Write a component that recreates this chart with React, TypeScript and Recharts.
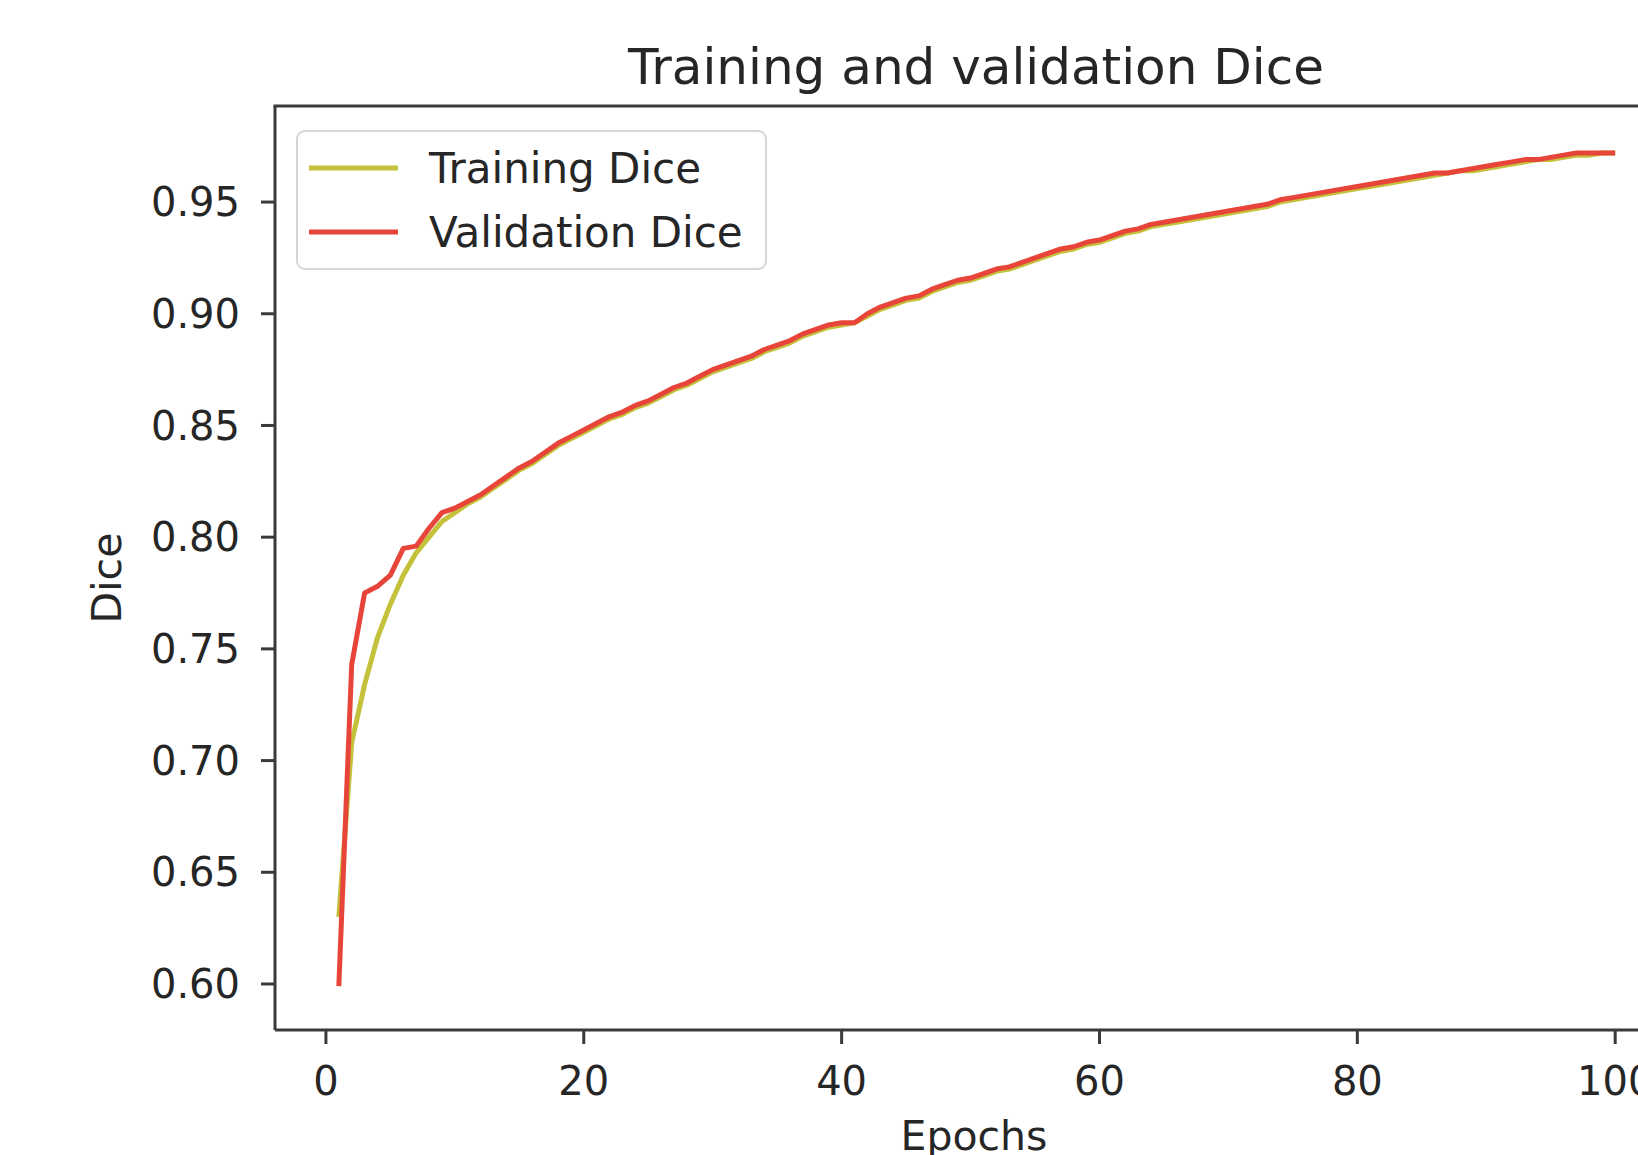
import { Legend, Line, LineChart, XAxis, YAxis } from "recharts";

const epochTicks = [0, 20, 40, 60, 80, 100];
const diceTicks = [0.6, 0.65, 0.7, 0.75, 0.8, 0.85, 0.9, 0.95];

// epochs 1..100
const trainingDice = [
  0.63, 0.708, 0.734, 0.755, 0.77, 0.783, 0.793, 0.8, 0.807, 0.811,
  0.815, 0.818, 0.822, 0.826, 0.83, 0.833, 0.837, 0.841, 0.844, 0.847,
  0.85, 0.853, 0.855, 0.858, 0.86, 0.863, 0.866, 0.868, 0.871, 0.874,
  0.876, 0.878, 0.88, 0.883, 0.885, 0.887, 0.89, 0.892, 0.894, 0.895,
  0.896, 0.899, 0.902, 0.904, 0.906, 0.907, 0.91, 0.912, 0.914, 0.915,
  0.917, 0.919, 0.92, 0.922, 0.924, 0.926, 0.928, 0.929, 0.931, 0.932,
  0.934, 0.936, 0.937, 0.939, 0.94, 0.941, 0.942, 0.943, 0.944, 0.945,
  0.946, 0.947, 0.948, 0.95, 0.951, 0.952, 0.953, 0.954, 0.955, 0.956,
  0.957, 0.958, 0.959, 0.96, 0.961, 0.962, 0.963, 0.964, 0.964, 0.965,
  0.966, 0.967, 0.968, 0.969, 0.969, 0.97, 0.971, 0.971, 0.972, 0.972,
];

const validationDice = [
  0.599, 0.743, 0.775, 0.778, 0.783, 0.795, 0.796, 0.804, 0.811, 0.813,
  0.816, 0.819, 0.823, 0.827, 0.831, 0.834, 0.838, 0.842, 0.845, 0.848,
  0.851, 0.854, 0.856, 0.859, 0.861, 0.864, 0.867, 0.869, 0.872, 0.875,
  0.877, 0.879, 0.881, 0.884, 0.886, 0.888, 0.891, 0.893, 0.895, 0.896,
  0.896, 0.9, 0.903, 0.905, 0.907, 0.908, 0.911, 0.913, 0.915, 0.916,
  0.918, 0.92, 0.921, 0.923, 0.925, 0.927, 0.929, 0.93, 0.932, 0.933,
  0.935, 0.937, 0.938, 0.94, 0.941, 0.942, 0.943, 0.944, 0.945, 0.946,
  0.947, 0.948, 0.949, 0.951, 0.952, 0.953, 0.954, 0.955, 0.956, 0.957,
  0.958, 0.959, 0.96, 0.961, 0.962, 0.963, 0.963, 0.964, 0.965, 0.966,
  0.967, 0.968, 0.969, 0.969, 0.97, 0.971, 0.972, 0.972, 0.972, 0.972,
];

const data = trainingDice.map((training, i) => ({
  epoch: i + 1,
  training,
  validation: validationDice[i],
}));

const FONT = "'DejaVu Sans', sans-serif";
const INK = "#262626";
const SPINE = "#3a3a3a";

const tickStyle = { fill: INK, fontSize: 40, fontFamily: FONT };
const tickLine = { stroke: SPINE, strokeWidth: 3 };
const axisLine = { stroke: SPINE, strokeWidth: 3 };

const DiceLegend = ({ payload }: any) => (
  <div
    style={{
      background: "rgba(255,255,255,0.8)",
      border: "2px solid #d6d6d6",
      borderRadius: 9,
      padding: "4px 22px 4px 11px",
      fontFamily: FONT,
      fontSize: 42,
      color: INK,
    }}
  >
    {(payload || []).map((entry: any) => (
      <div key={entry.value} style={{ display: "flex", alignItems: "center", height: 64 }}>
        <svg width={89} height={10} style={{ marginRight: 31 }}>
          <line x1={0} y1={5} x2={89} y2={5} stroke={entry.color} strokeWidth={5} />
        </svg>
        <span>{entry.value}</span>
      </div>
    ))}
  </div>
);

export default function App() {
  return (
    <div
      style={{
        position: "absolute",
        left: 0,
        top: 0,
        width: 1638,
        height: 1155,
        overflow: "hidden",
        background: "#fff",
      }}
    >
      <LineChart
        width={1700}
        height={1155}
        data={data}
        margin={{ top: 106, right: 21, bottom: 65, left: 195 }}
      >
        <XAxis
          dataKey="epoch"
          type="number"
          domain={[-3.95, 104.95]}
          ticks={epochTicks}
          allowDataOverflow
          height={60}
          tick={tickStyle}
          tickLine={tickLine}
          axisLine={axisLine}
          tickSize={14}
          tickMargin={23}
        />
        <YAxis
          type="number"
          domain={[0.5794, 0.993]}
          ticks={diceTicks}
          allowDataOverflow
          width={80}
          tick={tickStyle}
          tickLine={tickLine}
          axisLine={axisLine}
          tickSize={14}
          tickMargin={21}
          tickFormatter={(v: number) => v.toFixed(2)}
        />
        <Legend
          layout="vertical"
          align="center"
          verticalAlign="middle"
          content={<DiceLegend />}
          wrapperStyle={{ position: "absolute", left: 296, top: 130, width: "auto" }}
        />
        <Line
          type="linear"
          dataKey="training"
          name="Training Dice"
          stroke="#c4c13a"
          strokeWidth={5}
          strokeLinejoin="round"
          dot={false}
          isAnimationActive={false}
        />
        <Line
          type="linear"
          dataKey="validation"
          name="Validation Dice"
          stroke="#e8453a"
          strokeWidth={5}
          strokeLinejoin="round"
          dot={false}
          isAnimationActive={false}
        />
      </LineChart>
      <svg
        width={1638}
        height={1155}
        style={{ position: "absolute", left: 0, top: 0, pointerEvents: "none" }}
      >
        {/* top spine of the axes frame */}
        <line x1={273.5} y1={106} x2={1638} y2={106} stroke={SPINE} strokeWidth={3} />
        <text x={976} y={84} textAnchor="middle" fontFamily={FONT} fontSize={50} fill={INK}>
          Training and validation Dice
        </text>
        <text x={974} y={1150} textAnchor="middle" fontFamily={FONT} fontSize={41} fill={INK}>
          Epochs
        </text>
        <text
          x={121}
          y={578}
          textAnchor="middle"
          fontFamily={FONT}
          fontSize={41}
          fill={INK}
          transform="rotate(-90 121 578)"
        >
          Dice
        </text>
      </svg>
    </div>
  );
}
